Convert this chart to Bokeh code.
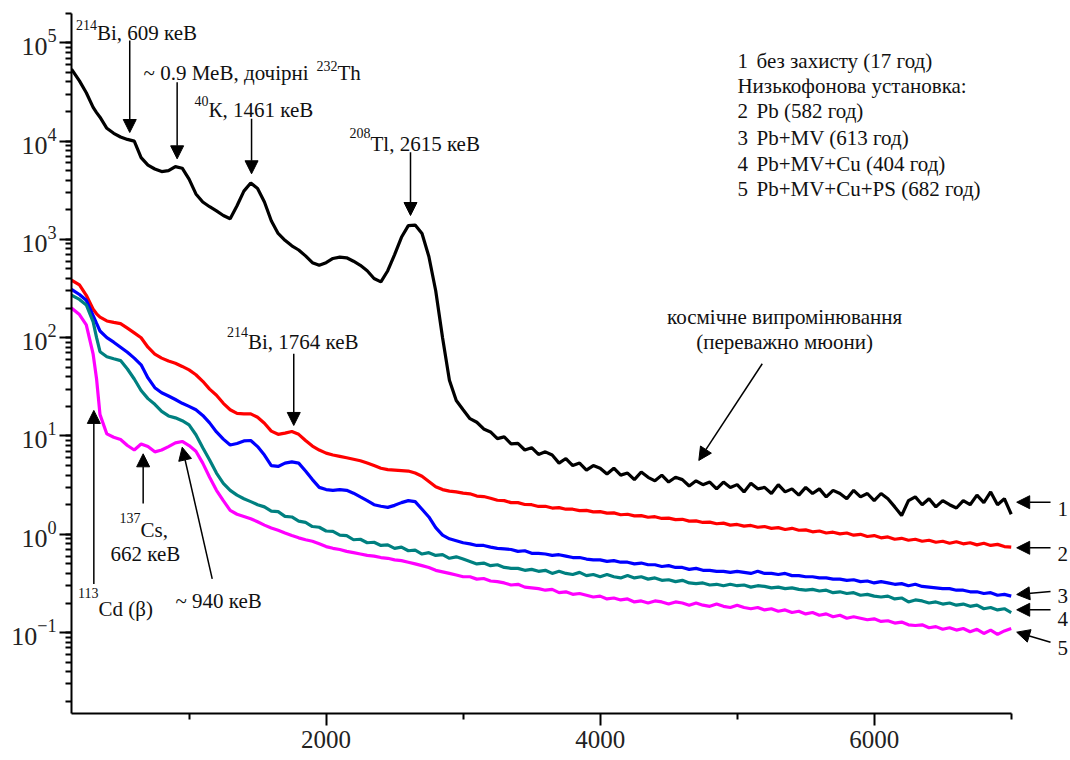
from bokeh.plotting import figure
from bokeh.models import Range1d, FixedTicker, Label, Arrow, NormalHead
from bokeh.embed import file_html
from bokeh.resources import INLINE

# Energy grid, keV
energy = [142, 200, 250, 300, 325, 350] + list(range(400, 7001, 50))

# 1: no shielding (17 h)
s1_bare = [
    54000, 41000, 31000, 22000, 19500, 17500,
    13500, 12000, 11000, 10400, 10000, 6800, 5700, 5200, 4900, 5000,
    5500, 5300, 4100, 2900, 2400, 2150, 1950, 1750, 1620, 2200,
    3100, 3750, 3300, 2400, 1550, 1150, 980, 860, 780, 680,
    580, 545, 580, 640, 660, 650, 600, 545, 480, 400,
    370, 480, 700, 1050, 1380, 1400, 1150, 670, 300, 100,
    37, 23, 18.5,
    15.0, 13.8, 11.8, 11.0, 9.4, 9.8, 8.3, 8.4, 7.2, 7.6,
    6.5, 6.9, 6.4, 5.3, 5.9, 5.0, 5.3, 4.5, 5.0, 4.7,
    4.1, 4.7, 4.0, 4.2, 3.6, 4.3, 3.8, 3.5, 4.0, 3.4,
    3.8, 3.6, 3.1, 3.5, 3.2, 3.4, 2.9, 3.4, 3.0, 3.2,
    2.7, 3.3, 2.9, 3.0, 2.6, 3.2, 2.7, 2.9, 2.5, 3.0,
    2.6, 2.9, 2.4, 2.8, 2.6, 2.3, 2.8, 2.4, 2.6, 2.2,
    2.6, 2.3, 1.9, 1.55, 2.2, 2.4, 2.0, 2.3, 1.9, 2.2,
    2.0, 1.85, 2.2, 2.0, 2.5, 2.1, 2.7, 2.0, 2.3, 1.6,
]

# 2: Pb (582 h)
s2_pb = [
    385, 345, 270, 195, 175, 162,
    148, 143, 139, 125, 112, 100, 80, 68, 62, 58,
    55, 51, 47, 42, 36, 30, 26, 21.5, 18.5, 17,
    16.8, 16.8, 15.5, 13.5, 11.2, 10.4, 10.7, 11.1, 10.4, 9.0,
    7.9, 7.2, 6.7, 6.4, 6.2, 6.0, 5.8, 5.6, 5.3, 5.0,
    4.7, 4.55, 4.5, 4.45, 4.4, 4.2, 3.9, 3.45, 3.05, 2.85,
    2.75, 2.7, 2.62,
    2.58, 2.45, 2.42, 2.33, 2.22, 2.20, 2.10, 2.10, 2.01, 2.00,
    1.92, 1.93, 1.85, 1.87, 1.80, 1.80, 1.74, 1.75, 1.69, 1.70,
    1.64, 1.65, 1.58, 1.60, 1.54, 1.55, 1.49, 1.51, 1.45, 1.46,
    1.41, 1.42, 1.36, 1.37, 1.32, 1.33, 1.28, 1.30, 1.24, 1.26,
    1.21, 1.23, 1.18, 1.20, 1.15, 1.17, 1.12, 1.15, 1.10, 1.11,
    1.06, 1.08, 1.03, 1.05, 1.01, 1.03, 0.98, 1.00, 0.95, 0.97,
    0.92, 0.94, 0.89, 0.91, 0.87, 0.89, 0.85, 0.87, 0.83, 0.85,
    0.81, 0.84, 0.80, 0.82, 0.78, 0.81, 0.77, 0.79, 0.75, 0.74,
]

# 3: Pb+MV (613 h)
s3_pb_mv = [
    310, 275, 240, 168, 140, 117,
    100, 90, 80, 71, 62, 53, 39, 31, 27.5, 25.5,
    23.5, 21.5, 20, 18.5, 16.2, 13.6, 11.0, 9.3, 8.1, 8.4,
    8.9, 9.0, 7.8, 6.4, 5.0, 4.9, 5.3, 5.45, 5.3, 4.4,
    3.6, 3.0, 2.85, 2.8, 2.85, 2.8, 2.62, 2.4, 2.2, 2.0,
    1.93, 1.88, 1.97, 2.1, 2.2, 2.15, 1.8, 1.5, 1.17, 0.98,
    0.9, 0.86, 0.82,
    0.80, 0.77, 0.77, 0.74, 0.72, 0.71, 0.70, 0.67, 0.68, 0.64,
    0.64, 0.63, 0.61, 0.62, 0.60, 0.58, 0.58, 0.56, 0.55, 0.55,
    0.53, 0.54, 0.52, 0.52, 0.50, 0.51, 0.49, 0.49, 0.47, 0.48,
    0.46, 0.46, 0.44, 0.45, 0.43, 0.43, 0.42, 0.42, 0.41, 0.42,
    0.41, 0.40, 0.42, 0.40, 0.40, 0.39, 0.40, 0.38, 0.38, 0.37,
    0.37, 0.36, 0.36, 0.35, 0.35, 0.34, 0.345, 0.33, 0.335, 0.32,
    0.33, 0.32, 0.31, 0.315, 0.30, 0.31, 0.295, 0.29, 0.285, 0.28,
    0.28, 0.27, 0.27, 0.26, 0.26, 0.25, 0.255, 0.24, 0.245, 0.235,
]

# 4: Pb+MV+Cu (404 h)
s4_pb_mv_cu = [
    270, 245, 215, 145, 100, 72,
    64, 61, 58.5, 48, 38, 29, 24, 21, 17.8, 16,
    15.3, 14.3, 13, 10.3, 7.6, 5.7, 4.2, 3.3, 2.8, 2.5,
    2.3, 2.15, 2.0, 1.9, 1.72, 1.7, 1.52, 1.5, 1.36, 1.32,
    1.2, 1.18, 1.08, 1.07, 0.98, 0.97, 0.88, 0.89, 0.82, 0.83,
    0.77, 0.78, 0.72, 0.74, 0.68, 0.69, 0.63, 0.65, 0.61, 0.62,
    0.57, 0.59, 0.56,
    0.53, 0.50, 0.51, 0.48, 0.49, 0.46, 0.45, 0.45, 0.43, 0.44,
    0.42, 0.43, 0.40, 0.42, 0.40, 0.39, 0.41, 0.38, 0.39, 0.37,
    0.39, 0.37, 0.36, 0.38, 0.36, 0.37, 0.35, 0.36, 0.34, 0.345,
    0.33, 0.34, 0.32, 0.315, 0.32, 0.305, 0.31, 0.30, 0.31, 0.30,
    0.305, 0.29, 0.30, 0.295, 0.285, 0.29, 0.28, 0.285, 0.275, 0.27,
    0.275, 0.265, 0.27, 0.255, 0.26, 0.25, 0.255, 0.24, 0.245, 0.235,
    0.23, 0.235, 0.22, 0.225, 0.205, 0.215, 0.21, 0.20, 0.205, 0.195,
    0.20, 0.19, 0.195, 0.185, 0.19, 0.175, 0.18, 0.17, 0.175, 0.16,
]

# 5: Pb+MV+Cu+PS (682 h)
s5_pb_mv_cu_ps = [
    200, 172, 135, 68, 38, 16.5,
    10.5, 9.7, 9.2, 8.0, 7.2, 8.3, 7.8, 6.9, 7.2, 7.8,
    8.5, 8.8, 8.0, 7.0, 5.3, 3.8, 2.8, 2.2, 1.75, 1.6,
    1.52, 1.44, 1.34, 1.24, 1.16, 1.1, 1.03, 0.97, 0.92, 0.88,
    0.85, 0.8, 0.75, 0.72, 0.70, 0.67, 0.65, 0.63, 0.61, 0.6,
    0.58, 0.57, 0.55, 0.54, 0.52, 0.50, 0.48, 0.46, 0.43, 0.415,
    0.40, 0.385, 0.37,
    0.37, 0.35, 0.355, 0.335, 0.33, 0.32, 0.305, 0.31, 0.29, 0.285,
    0.28, 0.27, 0.275, 0.255, 0.26, 0.245, 0.25, 0.24, 0.23, 0.235,
    0.22, 0.225, 0.215, 0.22, 0.205, 0.21, 0.20, 0.21, 0.205, 0.195,
    0.205, 0.20, 0.19, 0.20, 0.19, 0.185, 0.195, 0.185, 0.18, 0.19,
    0.18, 0.175, 0.18, 0.17, 0.175, 0.165, 0.17, 0.16, 0.165, 0.155,
    0.16, 0.15, 0.155, 0.145, 0.15, 0.14, 0.145, 0.14, 0.135, 0.138,
    0.13, 0.132, 0.125, 0.128, 0.12, 0.118, 0.12, 0.112, 0.115, 0.108,
    0.112, 0.106, 0.11, 0.102, 0.108, 0.098, 0.106, 0.096, 0.104, 0.11,
]

series = [s1_bare, s2_pb, s3_pb_mv, s4_pb_mv_cu, s5_pb_mv_cu_ps]
series_colors = ["#000000", "#ff0000", "#0000ff", "#008080", "#ff00ff"]
assert all(len(s) == len(energy) for s in series)

legend_numbers = ["1", "", "2", "3", "4", "5"]
legend_texts = ["без захисту (17 год)", "Низькофонова установка:", "Pb (582 год)",
                "Pb+MV (613 год)", "Pb+MV+Cu (404 год)", "Pb+MV+Cu+PS (682 год)"]

x_ticks = [2000, 4000, 6000]
x_minor_ticks = [1000, 3000, 5000, 7000]

SERIF = "Liberation Serif"
MAIN = "21px"
SUP = "14px"
INK = "#111111"

p = figure(width=1070, height=760, y_axis_type="log",
           x_range=Range1d(142, 7418), y_range=Range1d(0.01503, 2.57e5),
           output_backend="svg", toolbar_location=None,
           min_border_left=71, min_border_right=2, min_border_top=2, min_border_bottom=47)
p.outline_line_color = None
p.grid.visible = False

for ax in (p.xaxis[0], p.yaxis[0]):
    ax.axis_line_width = 2
    ax.axis_line_color = "black"
    ax.major_tick_line_width = 2
    ax.minor_tick_line_width = 2
    ax.major_tick_in = 0
    ax.minor_tick_in = 0
    ax.major_tick_out = 12
    ax.minor_tick_out = 6
    ax.major_label_text_font = SERIF
    ax.major_label_text_color = "#222222"

p.xaxis.ticker = FixedTicker(ticks=x_ticks, minor_ticks=x_minor_ticks)
p.xaxis.bounds = (142, 7000)
p.xaxis.major_label_text_font_size = "25px"
p.xaxis.major_label_standoff = 5
p.yaxis.bounds = (0.01503, 2.0e5)
p.yaxis.major_label_text_font_size = "26px"
p.yaxis.major_label_standoff = 3

for vals, col in zip(series, series_colors):
    p.line(energy, vals, line_color=col, line_width=3.2)


def add_text(text, x, y, align="left", size=MAIN):
    p.add_layout(Label(x=x, y=y, text=text, text_font=SERIF, text_font_size=size,
                       text_align=align, text_baseline="alphabetic", text_color=INK))


def add_arrow(x0, y0, x1, y1):
    p.add_layout(Arrow(end=NormalHead(size=13, fill_color="black", line_color="black"),
                       x_start=x0, y_start=y0, x_end=x1, y_end=y1,
                       line_color="black", line_width=1.5))


# peak annotations
add_text("214", 328, 1.535e5, "right", SUP)
add_text("Bi, 609 кеВ", 328, 1.252e5)
add_arrow(567, 1.055e5, 567, 1.223e4)

add_text("~ 0.9 МеВ, дочірні", 1872, 4.91e4, "right")
add_text("232", 2083, 5.875e4, "right", SUP)
add_text("Th", 2083, 4.91e4)
add_arrow(913, 3.97e4, 913, 6.6e3)

add_text("40", 1142, 2.53e4, "right", SUP)
add_text("К, 1461 кеВ", 1142, 2.05e4)
add_arrow(1456, 1.686e4, 1456, 4.65e3)

add_text("208", 2324, 1.195e4, "right", SUP)
add_text("Tl, 2615 кеВ", 2324, 9.39e3)
add_arrow(2616, 7.71e3, 2616, 1.75e3)

add_text("214", 1430, 113, "right", SUP)
add_text("Bi, 1764 кеВ", 1430, 90)
add_arrow(1764, 68.6, 1764, 12.8)

add_text("113", 339, 0.25, "right", SUP)
add_text("Cd (β)", 339, 0.1746)
add_arrow(305, 0.313, 305, 18.2)

add_text("137", 646, 1.48, "right", SUP)
add_text("Cs,", 646, 1.094)
add_text("662 кеВ", 427, 0.634)
add_arrow(665, 2.06, 665, 6.59)

add_text("~ 940 кеВ", 901, 0.212)
add_arrow(1169, 0.352, 950, 7.69)

add_text("космічне випромінювання", 5346, 161.6, "center")
add_text("(переважно мюони)", 5346, 89.4, "center")
add_arrow(5183, 54.3, 4720, 5.64)

# legend block
legend_y = [6.6e4, 3.65e4, 2.03e4, 1.078e4, 5.89e3, 3.22e3]
for num, txt, yy in zip(legend_numbers, legend_texts, legend_y):
    if num:
        add_text(num, 5002, yy)
        add_text(txt, 5141, yy)
    else:
        add_text(txt, 5002, yy)

# series numbers at the right edge
end_labels = ["1", "2", "3", "4", "5"]
end_label_y = [1.79, 0.624, 0.233, 0.136, 0.0689]
end_arrow_tail = [2.12, 0.729, 0.262, 0.1706, 0.0798]
end_arrow_tip = [2.12, 0.729, 0.244, 0.1706, 0.101]
for lab, ly, yt, yh in zip(end_labels, end_label_y, end_arrow_tail, end_arrow_tip):
    add_text(lab, 7338, ly)
    add_arrow(7287, yt, 7040, yh)

open("out.html", "w").write(file_html(p, INLINE))
